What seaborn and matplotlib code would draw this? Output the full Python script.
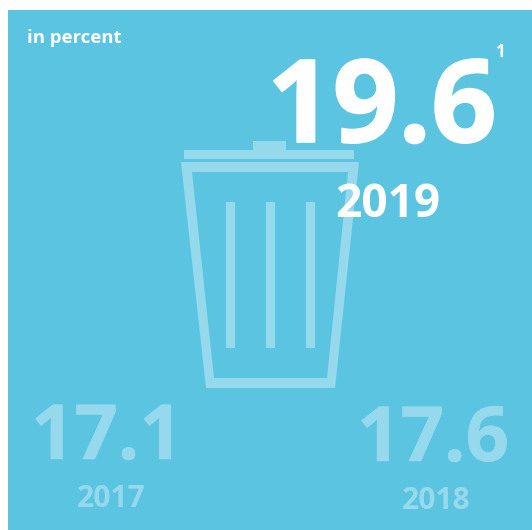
import matplotlib
matplotlib.use("Agg")
import matplotlib.pyplot as plt
import matplotlib.patheffects as pe
import seaborn as sns
from matplotlib.patches import PathPatch, Rectangle
from matplotlib.path import Path

sns.set_style("white")
plt.rcParams["font.family"] = ["Open Sans", "DejaVu Sans"]

# ---- data ----
years = ["2017", "2018", "2019"]
values = ["17.1", "17.6", "19.6"]
unit_label = "in percent"
footnote = "1"

BG = "#5BC4E1"
FAINT = "#96D9EC"
DPI = 100


def px(size):
    # font size given in image pixels
    return size * 72 / DPI


def label(x, y, text, size, color, ha="left", stroke=0.0):
    # stroke thickens the big glyphs, the reference face is heavier than Open Sans Bold
    t = ax.text(x, y, text, color=color, fontsize=px(size), fontweight="bold", va="baseline", ha=ha)
    if stroke:
        t.set_path_effects([pe.withStroke(linewidth=stroke, foreground=color)])
    return t


fig = plt.figure(figsize=(5.32, 5.30), dpi=DPI, facecolor="white")
ax = fig.add_axes([0, 0, 1, 1])
ax.set_xlim(0, 532)
ax.set_ylim(530, 0)
ax.axis("off")

ax.add_patch(Rectangle((8, 10), 524, 520, color=BG, lw=0))

# ---- bin icon ----
ax.add_patch(Rectangle((184, 150), 170, 9, color=FAINT, lw=0))
ax.add_patch(Rectangle((253, 141), 33, 18, color=FAINT, lw=0))
outer = [(181, 162), (359, 162), (335, 388), (206, 388), (181, 162)]
inner = [(192, 172), (214, 378), (327, 378), (348, 172), (192, 172)]
codes = [Path.MOVETO, Path.LINETO, Path.LINETO, Path.LINETO, Path.CLOSEPOLY]
ax.add_patch(PathPatch(Path(outer + inner, codes + codes), color=FAINT, lw=0))
for x in (226, 266, 306):
    ax.add_patch(Rectangle((x, 202), 9, 146, color=FAINT, lw=0))

# ---- labels ----
label(27, 43, unit_label, 18.5, "white")

label(267, 142, values[2], 115, "white", stroke=1.2)
label(496, 57, footnote, 17, "white")
label(388, 217, years[2], 46, "white", ha="center")

label(107, 459, values[0], 76, FAINT, ha="center", stroke=0.4)
label(111, 507, years[0], 30, FAINT, ha="center")

label(433, 461, values[1], 76, FAINT, ha="center", stroke=0.4)
label(436, 509, years[1], 30, FAINT, ha="center")

fig.savefig("out.png", dpi=DPI)
